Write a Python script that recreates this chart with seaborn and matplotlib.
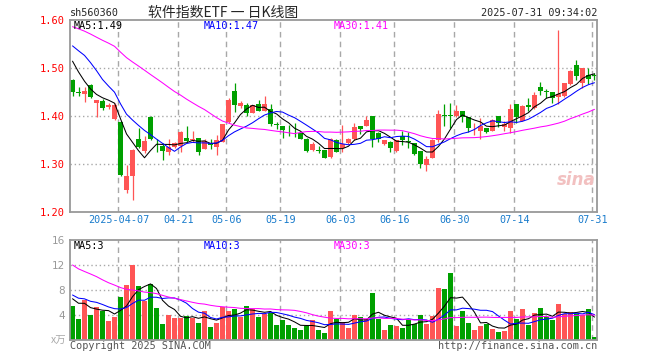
import numpy as np
import pandas as pd
import matplotlib
matplotlib.use("Agg")
import matplotlib.pyplot as plt
import seaborn as sns

# daily bars, 2025-03-25 .. 2025-07-31
open_ = [1.476, 1.449, 1.446, 1.465, 1.428, 1.431, 1.418, 1.394, 1.387, 1.246,
         1.274, 1.352, 1.327, 1.397, 1.342, 1.338, 1.326, 1.336, 1.338, 1.355,
         1.349, 1.354, 1.331, 1.343, 1.336, 1.345, 1.388, 1.452, 1.421, 1.423,
         1.407, 1.426, 1.411, 1.415, 1.382, 1.379, 1.371, 1.369, 1.365, 1.352,
         1.329, 1.328, 1.329, 1.314, 1.351, 1.334, 1.343, 1.352, 1.379, 1.379,
         1.400, 1.365, 1.342, 1.346, 1.327, 1.358, 1.347, 1.344, 1.327, 1.297,
         1.313, 1.350, 1.401, 1.401, 1.399, 1.410, 1.397, 1.374, 1.369, 1.374,
         1.369, 1.400, 1.378, 1.376, 1.425, 1.390, 1.423, 1.417, 1.461, 1.451,
         1.451, 1.440, 1.442, 1.466, 1.506, 1.468, 1.485, 1.485]
high = [1.478, 1.461, 1.460, 1.466, 1.433, 1.435, 1.428, 1.428, 1.390, 1.298,
        1.331, 1.374, 1.358, 1.401, 1.352, 1.343, 1.352, 1.345, 1.369, 1.379,
        1.369, 1.354, 1.352, 1.352, 1.360, 1.384, 1.437, 1.469, 1.431, 1.428,
        1.423, 1.433, 1.442, 1.425, 1.388, 1.380, 1.381, 1.385, 1.366, 1.354,
        1.345, 1.338, 1.330, 1.354, 1.353, 1.381, 1.355, 1.386, 1.379, 1.399,
        1.400, 1.367, 1.348, 1.348, 1.351, 1.369, 1.366, 1.344, 1.327, 1.317,
        1.352, 1.412, 1.425, 1.428, 1.423, 1.410, 1.397, 1.385, 1.395, 1.374,
        1.393, 1.400, 1.390, 1.426, 1.425, 1.423, 1.437, 1.451, 1.470, 1.456,
        1.451, 1.579, 1.468, 1.496, 1.517, 1.499, 1.499, 1.489]
low = [1.442, 1.442, 1.429, 1.437, 1.397, 1.412, 1.415, 1.392, 1.275, 1.240,
       1.226, 1.333, 1.322, 1.350, 1.326, 1.308, 1.319, 1.334, 1.324, 1.346,
       1.345, 1.319, 1.331, 1.331, 1.319, 1.345, 1.385, 1.409, 1.417, 1.399,
       1.406, 1.410, 1.410, 1.379, 1.373, 1.355, 1.358, 1.357, 1.352, 1.325,
       1.328, 1.322, 1.312, 1.313, 1.326, 1.324, 1.341, 1.351, 1.363, 1.379,
       1.336, 1.346, 1.340, 1.326, 1.326, 1.340, 1.333, 1.319, 1.292, 1.286,
       1.312, 1.345, 1.379, 1.374, 1.397, 1.387, 1.366, 1.360, 1.352, 1.364,
       1.368, 1.378, 1.369, 1.364, 1.385, 1.389, 1.410, 1.415, 1.444, 1.438,
       1.428, 1.425, 1.440, 1.465, 1.476, 1.459, 1.466, 1.475]
close = [1.451, 1.448, 1.453, 1.440, 1.433, 1.416, 1.423, 1.422, 1.277, 1.275,
         1.329, 1.336, 1.348, 1.352, 1.341, 1.327, 1.336, 1.343, 1.367, 1.348,
         1.352, 1.326, 1.348, 1.340, 1.350, 1.383, 1.433, 1.422, 1.428, 1.406,
         1.423, 1.410, 1.425, 1.383, 1.381, 1.371, 1.370, 1.368, 1.352, 1.327,
         1.342, 1.327, 1.313, 1.353, 1.326, 1.341, 1.352, 1.377, 1.373, 1.392,
         1.352, 1.353, 1.349, 1.333, 1.350, 1.349, 1.346, 1.321, 1.299, 1.310,
         1.349, 1.404, 1.400, 1.400, 1.410, 1.397, 1.376, 1.375, 1.380, 1.366,
         1.392, 1.385, 1.383, 1.415, 1.397, 1.421, 1.419, 1.444, 1.452, 1.450,
         1.438, 1.446, 1.468, 1.494, 1.484, 1.499, 1.478, 1.484]
volume = [5.49, 3.41, 6.45, 4.05, 5.33, 4.59, 3.09, 3.73, 6.93, 8.85,
          12.05, 8.69, 6.29, 9.01, 5.17, 2.61, 4.05, 3.57, 3.57, 3.89,
          3.57, 2.77, 4.69, 2.13, 2.77, 5.33, 4.69, 5.01, 3.73, 5.49,
          5.01, 3.73, 4.21, 4.37, 2.45, 3.25, 2.45, 1.97, 1.65, 2.29,
          3.25, 1.65, 1.17, 4.69, 3.41, 2.93, 1.97, 4.05, 3.73, 3.41,
          7.57, 3.41, 1.65, 2.45, 2.29, 1.97, 3.41, 2.61, 4.05, 2.61,
          3.89, 8.37, 8.21, 10.77, 2.29, 4.69, 2.77, 1.65, 2.29, 2.61,
          1.81, 1.33, 1.49, 4.69, 3.41, 5.01, 2.45, 4.37, 5.17, 3.73,
          3.25, 5.81, 4.21, 4.53, 4.21, 4.05, 5.01, 0.53]

# 29 sessions before the window, estimated so the moving averages start where the chart shows them
prev_close = [1.58, 1.60, 1.62, 1.63, 1.61, 1.60, 1.62, 1.64, 1.62, 1.60,
              1.59, 1.61, 1.62, 1.60, 1.59, 1.61, 1.61, 1.59, 1.60, 1.58,
              1.55, 1.55, 1.59, 1.60, 1.60, 1.56, 1.55, 1.52, 1.49]
prev_volume = [22, 19, 16, 18, 20, 17, 15, 19, 17, 15.5,
               13, 12, 11.5, 10, 11, 12, 10, 9.5, 10.5, 10,
               8.5, 7.5, 8, 7, 8, 7, 6.5, 7.5, 6.5]

holidays = ["2025-04-04", "2025-05-01", "2025-05-02", "2025-05-05", "2025-06-02"]
tick_dates = ["2025-04-07", "2025-04-21", "2025-05-06", "2025-05-19", "2025-06-03",
              "2025-06-16", "2025-06-30", "2025-07-14", "2025-07-31"]

days = pd.bdate_range("2025-03-25", "2025-07-31")
days = days[~days.isin(pd.to_datetime(holidays))]
n = len(close)
x = np.arange(n)

o = np.array(open_)
c = np.array(close)
h = np.array(high)
l = np.array(low)
v = np.array(volume)

full_c = pd.Series(prev_close + close)
full_v = pd.Series(prev_volume + volume)
k = len(prev_close)
ma = {w: full_c.rolling(w).mean().values[k:] for w in (5, 10, 30)}
vma = {w: full_v.rolling(w).mean().values[k:] for w in (5, 10, 30)}

sns.set_style("white")
plt.rcParams["font.family"] = ["DejaVu Sans Mono", "Noto Sans CJK SC"]

RED = "#ff5555"
GREEN = "#00a000"
GRID = "#a8a8a8"
FRAME = "#999999"
W, H = 660, 360

fig = plt.figure(figsize=(6.6, 3.6), dpi=100)


def box(l_, t, r, b):
    return [l_ / W, 1 - b / H, (r - l_) / W, (b - t) / H]


def ftxt(px, py, s, **kw):
    fig.text(px / W, 1 - py / H, s, **kw)


ax = fig.add_axes(box(70, 20, 597, 212))
axv = fig.add_axes(box(70, 240, 597, 340))

up = c >= o
cols = np.where(up, RED, GREEN)
tick_idx = [int(np.where(days == pd.Timestamp(d))[0][0]) for d in tick_dates]
grid_x = [i - 0.35 for i in tick_idx]
tick_lbl = [d if j == 0 else d[5:] for j, d in enumerate(tick_dates)]

for a in (ax, axv):
    a.set_xlim(-0.42, n - 0.58)
    for gx in grid_x:
        a.axvline(gx, color=GRID, lw=1, ls=(0, (4, 3)), zorder=0)
    for s in a.spines.values():
        s.set_color(FRAME)
        s.set_linewidth(1.3)
    a.tick_params(length=0)

# candles
ax.vlines(x, l, h, colors=cols, lw=0.9, zorder=2)
body = np.maximum(np.abs(c - o), 0.0016)
ax.bar(x, body, bottom=np.minimum(o, c), width=0.8, color=cols, lw=0, zorder=2)
for w, col in ((5, "black"), (10, "#0000ff"), (30, "#ff00ff")):
    sns.lineplot(x=x, y=ma[w], ax=ax, color=col, lw=0.75, zorder=3)
ax.set_ylim(1.20, 1.60)
for gy in (1.3, 1.4, 1.5):
    ax.axhline(gy, color=GRID, lw=1, ls=(0, (1, 2)), zorder=0)
ax.set_yticks([1.2, 1.3, 1.4, 1.5, 1.6])
ax.set_yticklabels(["%.2f" % t for t in [1.2, 1.3, 1.4, 1.5, 1.6]], color="#ff0000", fontsize=7.5)
ax.set_xticks(grid_x)
ax.set_xticklabels(tick_lbl, color="#1a7ccc", fontsize=7.3)
ax.tick_params(axis="x", pad=2)
ax.tick_params(axis="y", pad=4)
ax.set_ylabel("")

# volume
axv.bar(x, v, width=0.8, color=cols, lw=0, zorder=2)
for w, col in ((5, "black"), (10, "#0000ff"), (30, "#ff00ff")):
    sns.lineplot(x=x, y=vma[w], ax=axv, color=col, lw=0.75, zorder=3)
axv.set_ylim(0, 16)
for gy in (4, 8, 12):
    axv.axhline(gy, color=GRID, lw=1, ls=(0, (1, 2)), zorder=0)
axv.set_yticks([4, 8, 12, 16])
axv.set_yticklabels(["4", "8", "12", "16"], color="#999999", fontsize=7.5, family="DejaVu Sans")
axv.set_xticks([])
axv.set_ylabel("")

# texts
ftxt(70, 13, "sh560360", fontsize=7.3, va="center", ha="left")
ftxt(223, 13, "软件指数ETF 一 日K线图", fontsize=10, va="center", ha="center",
     family=["Noto Sans CJK SC", "DejaVu Sans"])
ftxt(597, 13, "2025-07-31 09:34:02", fontsize=7.3, va="center", ha="right")
ftxt(74, 26, "MA5:1.49", fontsize=7.3, va="center", color="black")
ftxt(204, 26, "MA10:1.47", fontsize=7.3, va="center", color="#0000ff")
ftxt(334, 26, "MA30:1.41", fontsize=7.3, va="center", color="#ff00ff")
ftxt(74, 246, "MA5:3", fontsize=7.3, va="center", color="black")
ftxt(204, 246, "MA10:3", fontsize=7.3, va="center", color="#0000ff")
ftxt(334, 246, "MA30:3", fontsize=7.3, va="center", color="#ff00ff")
ftxt(66, 341, "x万", fontsize=7.5, va="center", ha="right", color="#aaaaaa",
     family=["Noto Sans CJK SC", "DejaVu Sans"])
ftxt(70, 346, "Copyright 2025 SINA.COM", fontsize=7.3, va="center", color="#555555")
ftxt(597, 346, "http://finance.sina.com.cn", fontsize=7.3, va="center", ha="right", color="#555555")
ftxt(576, 180, "sina", fontsize=12, va="center", ha="center", color="#f2c0c0",
     family="DejaVu Sans", style="italic", weight="bold")

fig.savefig("out.png", dpi=100)
